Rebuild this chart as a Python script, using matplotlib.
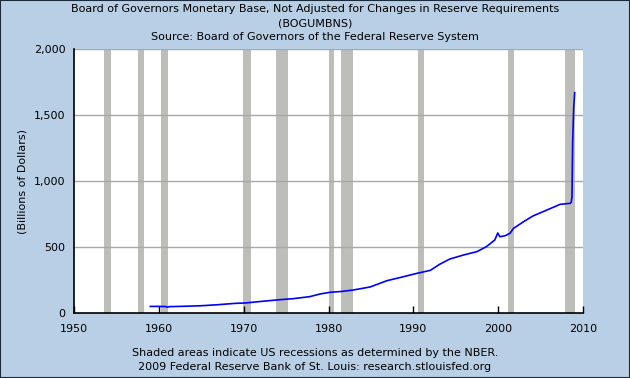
import numpy as np
import matplotlib
matplotlib.use('Agg')
import matplotlib.pyplot as plt

# monetary base, billions of dollars
years = [1959.0, 1960.0, 1960.8, 1961.0, 1961.2, 1963.0, 1965.0, 1967.0, 1969.0,
         1970.2, 1972.1, 1974.3, 1975.9, 1977.8, 1979.0, 1980.2, 1981.5, 1982.9,
         1984.9, 1986.9, 1988.4, 1990.4, 1992.0, 1993.1, 1994.3, 1995.9, 1997.5,
         1998.6, 1999.6, 1999.95, 2000.2, 2000.8, 2001.4, 2001.8, 2003.0, 2004.1,
         2005.3, 2006.5, 2007.3, 2008.5, 2008.62, 2008.7, 2008.78, 2008.9, 2009.02]
base = [50, 50, 49, 44, 48, 51, 55, 63, 73,
        76, 88, 101, 109, 124, 144, 157, 163, 174,
        197, 245, 268, 300, 323, 369, 409, 439, 465,
        502, 553, 606, 578, 585, 604, 641, 692, 735,
        768, 801, 823, 831, 840, 880, 1290, 1550, 1669]

recessions = [(1953.5, 1954.4), (1957.6, 1958.3), (1960.3, 1961.1), (1969.9, 1970.9),
              (1973.8, 1975.2), (1980.0, 1980.6), (1981.5, 1982.9), (1990.5, 1991.2),
              (2001.2, 2001.9), (2007.9, 2009.1)]

bg = '#b8cfe6'
fig = plt.figure(figsize=(6.3, 3.78), dpi=100, facecolor=bg)
ax = fig.add_axes([74/630, 1-313/378, (583-74)/630, (313-49)/378])
ax.set_facecolor('white')

for a, b in recessions:
    ax.axvspan(a, b, color='#bdbdb9', lw=0, zorder=1)

for v in [500, 1000, 1500, 2000]:
    ax.axhline(v, color='#a8a8a8', lw=1, zorder=2)

ax.plot(years, base, color='#0000ff', lw=1.2, zorder=3)

ax.set_xlim(1950, 2010)
ax.set_ylim(0, 2000)
ax.set_xticks(range(1950, 2011, 10))
ax.set_yticks([0, 500, 1000, 1500, 2000])
ax.set_yticklabels(['0', '500', '1,000', '1,500', '2,000'])
ax.tick_params(axis='x', direction='in', length=5, width=1, color='black', pad=8, labelsize=8)
ax.tick_params(axis='y', length=0, pad=6, labelsize=8)
for s in ['top', 'right']:
    ax.spines[s].set_visible(False)
for s in ['left', 'bottom']:
    ax.spines[s].set_color('black')
    ax.spines[s].set_linewidth(1.2)
    ax.spines[s].set_zorder(4)
ax.set_ylabel('(Billions of Dollars)', fontsize=8, labelpad=5)

fig.text(0.5, 1-9/378, 'Board of Governors Monetary Base, Not Adjusted for Changes in Reserve Requirements',
         ha='center', va='center', fontsize=8)
fig.text(0.5, 1-23/378, '(BOGUMBNS)', ha='center', va='center', fontsize=8)
fig.text(0.5, 1-37/378, 'Source: Board of Governors of the Federal Reserve System',
         ha='center', va='center', fontsize=8)
fig.text(0.5, 1-353/378, 'Shaded areas indicate US recessions as determined by the NBER.',
         ha='center', va='center', fontsize=8)
fig.text(0.5, 1-367/378, '2009 Federal Reserve Bank of St. Louis: research.stlouisfed.org',
         ha='center', va='center', fontsize=8)

# thin dark frame around the image
fig.patches.append(plt.Rectangle((0, 0), 1, 1, transform=fig.transFigure,
                                 fill=False, edgecolor='#1a2a3a', lw=1.5))

fig.savefig('out.png', dpi=100, facecolor=bg)
